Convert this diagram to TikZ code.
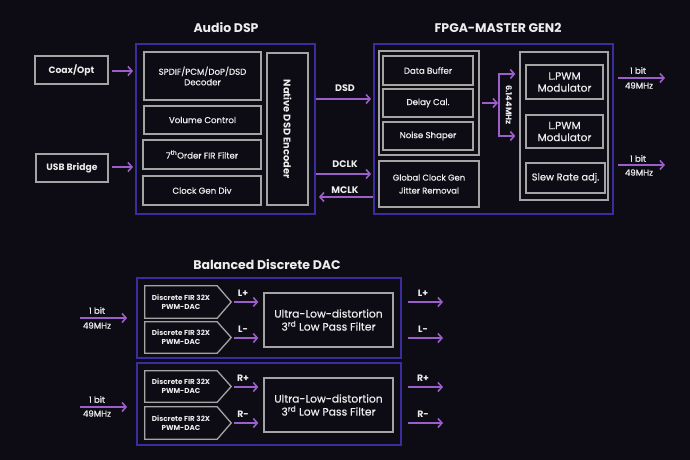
\documentclass[tikz,border=0pt]{standalone}
\usepackage{fontspec}
\setmainfont{Poppins}
\newfontfamily\medfont{Poppins}[FakeBold=0.5]
\usetikzlibrary{arrows.meta,calc}
\definecolor{bg}{HTML}{0D0B14}
\definecolor{gbord}{HTML}{A4A4A4}
\definecolor{obord}{HTML}{3A2E9E}
\definecolor{parr}{HTML}{9A5FC9}
\definecolor{txt}{HTML}{EDEDED}
\tikzset{
  x=1pt,y=-1pt,
  gbox/.style={draw=gbord,line width=1.3pt,text=txt,align=center,inner sep=1pt,font=\medfont\fontsize{8.6}{10.5}\selectfont},
  obox/.style={draw=obord,line width=1.8pt},
  plain/.style={text=txt,align=center,inner sep=0pt},
  title/.style={plain,font=\bfseries\fontsize{12.5}{14}\selectfont},
  parrow/.style={draw=parr,line width=1.8pt,-{Straight Barb[length=4pt,width=9pt,line width=1.6pt]}},
  pline/.style={draw=parr,line width=1.8pt},
  small/.style={plain,font=\medfont\fontsize{8.6}{9}\selectfont},
  lbl/.style={plain,font=\bfseries\fontsize{9.5}{11}\selectfont},
  dlbl/.style={plain,font=\bfseries\fontsize{9.3}{11}\selectfont},
  pent/.style={plain,minimum width=72pt,minimum height=32pt,font=\bfseries\fontsize{7.2}{8.8}\selectfont},
}
\begin{document}
\begin{tikzpicture}
\fill[bg] (0,0) rectangle (690,460);
\useasboundingbox (0,0) rectangle (690,460);

% ---------- Audio DSP ----------
\node[title] (tdsp) at (226,28) {Audio DSP};
\node[obox,minimum width=179pt,minimum height=170pt] (dsp) at (225.5,129) {};
\node[gbox,font=\bfseries\fontsize{9.2}{10}\selectfont,minimum width=73pt,minimum height=28pt] (coax) at (71.5,70) {Coax/Opt};
\node[gbox,font=\bfseries\fontsize{9.2}{10}\selectfont,minimum width=72pt,minimum height=28pt] (usb) at (72,168) {USB Bridge};
\node[gbox,minimum width=117pt,minimum height=48pt] (spdif) at (202.5,76) {SPDIF/PCM/DoP/DSD\\Decoder};
\node[gbox,minimum width=117pt,minimum height=28pt] (vol) at (202.5,120) {Volume Control};
\node[gbox,minimum width=118pt,minimum height=29pt] (fir) at (202,154.5) {7\textsuperscript{th}Order FIR Filter};
\node[gbox,minimum width=118pt,minimum height=29pt] (cgd) at (202,190.5) {Clock Gen Div};
\node[gbox,minimum width=41pt,minimum height=152pt] (nde) at (287.5,129) {};
\node[plain,rotate=-90,font=\bfseries\fontsize{9.8}{11}\selectfont] (ndet) at (nde.center) {Native DSD Encoder};

\coordinate (cin) at (133,71);
\coordinate (uin) at (133,167);
\draw[parrow] ([xshift=3pt]coax.east |- cin) -- (cin);
\draw[parrow] ([xshift=3pt]usb.east |- uin) -- (uin);

% ---------- FPGA ----------
\node[title] (tfpga) at (498,28) {FPGA-MASTER GEN2};
\node[obox,minimum width=239pt,minimum height=170pt] (fpga) at (493.5,129) {};
\node[gbox,minimum width=100pt,minimum height=104pt] (lgrp) at (429,103) {};
\node[gbox,minimum width=90pt,minimum height=29pt] (dbuf) at (428,70.5) {Data Buffer};
\node[gbox,minimum width=90pt,minimum height=28pt] (dcal) at (428,103) {Delay Cal.};
\node[gbox,minimum width=90pt,minimum height=28pt] (nsh) at (428,136) {Noise Shaper};
\node[gbox,minimum width=100pt,minimum height=46pt,font=\medfont\fontsize{8.4}{13}\selectfont] (gclk) at (429,184) {Global Clock Gen\\Jitter Removal};
\node[gbox,minimum width=88pt,minimum height=148pt] (rgrp) at (564,126) {};
\node[gbox,font=\medfont\fontsize{10.5}{12}\selectfont,minimum width=77pt,minimum height=34pt] (pwm1) at (564.5,82) {L.PWM\\Modulator};
\node[gbox,font=\medfont\fontsize{10.5}{12}\selectfont,minimum width=77pt,minimum height=33pt] (pwm2) at (564.5,131.5) {L.PWM\\Modulator};
\node[gbox,font=\medfont\fontsize{9.8}{11}\selectfont,minimum width=79pt,minimum height=30pt] (slew) at (565.5,178) {Slew Rate adj.};

% DSD / DCLK / MCLK
\coordinate (dsdy) at (0,99);
\coordinate (dclky) at (0,174);
\coordinate (mclky) at (0,197);
\draw[parrow] (dsp.east |- dsdy) -- ([xshift=-2pt]fpga.west |- dsdy);
\draw[parrow] (dsp.east |- dclky) -- ([xshift=-2pt]fpga.west |- dclky);
\draw[parrow] (fpga.west |- mclky) -- ([xshift=3pt]dsp.east |- mclky);
\node[lbl] (ldsd) at (345,88) {DSD};
\node[lbl] (ldclk) at (345,164) {DCLK};
\node[lbl] (lmclk) at (345,190) {MCLK};

% bracket 6.144MHz
\coordinate (bm) at (498,103);
\coordinate (bt) at (499,74);
\coordinate (bb) at (499,136);
\draw[parrow] ([xshift=2pt]lgrp.east |- bm) -- (bm);
\draw[pline] (bt) -- (bb);
\draw[parrow] ([xshift=-0.9pt]bt) -- ([xshift=-4pt]rgrp.west |- bt);
\draw[parrow] ([xshift=-0.9pt]bb) -- ([xshift=-4pt]rgrp.west |- bb);
\node[plain,rotate=-90,font=\bfseries\fontsize{8.2}{9}\selectfont] (mhz) at (509,105) {6.144MHz};

% outputs
\coordinate (o1a) at (618,78);
\coordinate (o1b) at (665,78);
\coordinate (o2a) at (618,165);
\coordinate (o2b) at (665,165);
\draw[parrow] (o1a) -- (o1b);
\draw[parrow] (o2a) -- (o2b);
\node[small] (o1t) at (638,70.5) {1 bit};
\node[small] (o1u) at (639,85.5) {49MHz};
\node[small] (o2t) at (638,158.5) {1 bit};
\node[small] (o2u) at (639,172.5) {49MHz};

% ---------- Balanced DAC ----------
\node[title] (tdac) at (267,265) {Balanced Discrete DAC};
\node[obox,minimum width=264pt,minimum height=80pt] (dac1) at (269,318) {};
\node[obox,minimum width=264pt,minimum height=82pt] (dac2) at (269,404) {};

\node[pent] (pa) at (181,302) {Discrete FIR 32X\\PWM-DAC};
\node[pent,minimum height=31pt] (pb) at (181,337.5) {Discrete FIR 32X\\PWM-DAC};
\node[pent,minimum height=31pt] (pc) at (181,386.5) {Discrete FIR 32X\\PWM-DAC};
\node[pent] (pd) at (181,423) {Discrete FIR 32X\\PWM-DAC};
\foreach \p in {pa,pb,pc,pd}{
  \draw[draw=gbord,line width=1.3pt,line join=miter] (\p.north west) -- (\p.north east) -- ([xshift=14pt]\p.east) -- (\p.south east) -- (\p.south west) -- cycle;
}
\node[gbox,font=\medfont\fontsize{10.8}{13}\selectfont,minimum width=129pt,minimum height=54pt] (f1) at (328.5,320) {Ultra-Low-distortion\\3\textsuperscript{rd} Low Pass Filter};
\node[gbox,font=\medfont\fontsize{10.8}{13}\selectfont,minimum width=129pt,minimum height=54pt] (f2) at (328.5,405) {Ultra-Low-distortion\\3\textsuperscript{rd} Low Pass Filter};

\coordinate (ya) at (0,302);
\coordinate (yb) at (0,338);
\coordinate (yc) at (0,387);
\coordinate (yd) at (0,423);
\draw[parrow] ([xshift=17pt]pa.east |- ya) -- ([xshift=-5pt]f1.west |- ya);
\draw[parrow] ([xshift=17pt]pb.east |- yb) -- ([xshift=-5pt]f1.west |- yb);
\draw[parrow] ([xshift=17pt]pc.east |- yc) -- ([xshift=-5pt]f2.west |- yc);
\draw[parrow] ([xshift=17pt]pd.east |- yd) -- ([xshift=-5pt]f2.west |- yd);
\node[dlbl] (lpa) at (243,293) {L+};
\node[dlbl] (lpb) at (243,329) {L-};
\node[dlbl] (lpc) at (243,378) {R+};
\node[dlbl] (lpd) at (243,414) {R-};

\coordinate (oa) at (443,302);
\coordinate (ob) at (443,338);
\coordinate (oc) at (443,387);
\coordinate (od) at (443,423);
\draw[parrow] ([xshift=6pt]dac1.east |- oa) -- (oa);
\draw[parrow] ([xshift=6pt]dac1.east |- ob) -- (ob);
\draw[parrow] ([xshift=6pt]dac2.east |- oc) -- (oc);
\draw[parrow] ([xshift=6pt]dac2.east |- od) -- (od);
\node[dlbl] (loa) at (423,293) {L+};
\node[dlbl] (lob) at (423,329) {L-};
\node[dlbl] (loc) at (423,378) {R+};
\node[dlbl] (lod) at (423,414) {R-};

\coordinate (ia) at (80,318);
\coordinate (ib) at (80,407);
\draw[parrow] (ia) -- ([xshift=-9pt]dac1.west |- ia);
\draw[parrow] (ib) -- ([xshift=-9pt]dac2.west |- ib);
\node[small] (ia1) at (97,310.5) {1 bit};
\node[small] (ia2) at (97,325.5) {49MHz};
\node[small] (ib1) at (97,399.5) {1 bit};
\node[small] (ib2) at (97,413.5) {49MHz};
\end{tikzpicture}
\end{document}
